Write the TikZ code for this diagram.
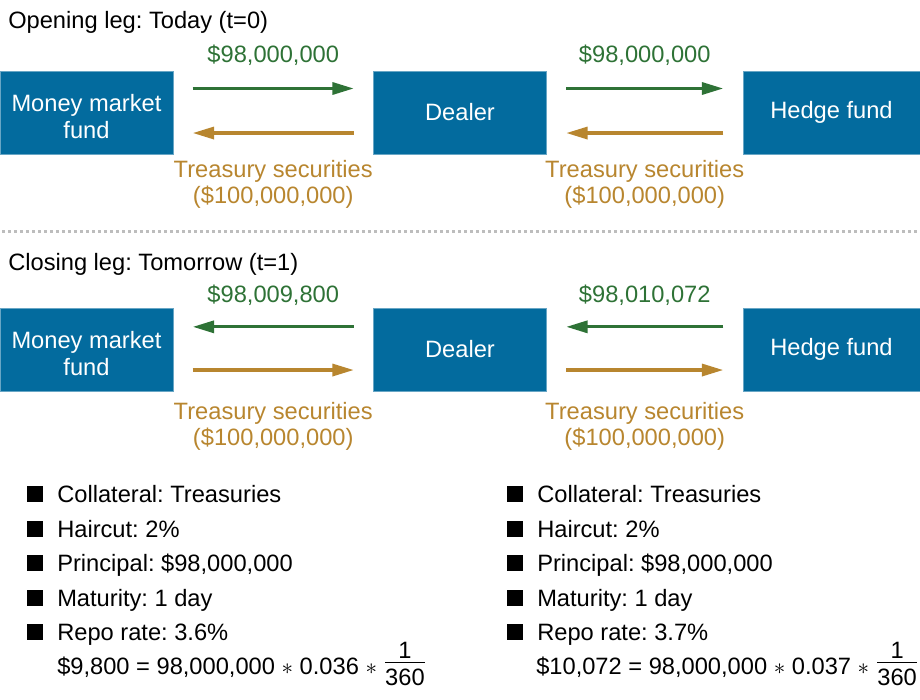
\documentclass[tikz,border=0pt]{standalone}
\usepackage{fontspec}
\setmainfont{Liberation Sans}
\usetikzlibrary{
    arrows.meta,
    calc,
    positioning
}
\definecolor{fundblue}{HTML}{036B9E}
\definecolor{cashgreen}{HTML}{2E7236}
\definecolor{secgold}{HTML}{B8862F}
\definecolor{rulegray}{HTML}{BDBDBD}
\newcommand{\bsq}{\rule{12pt}{12pt}\hspace{10.5pt}}
\newcommand{\mmftext}{\raisebox{-5.3pt}[\height][\depth]{\begin{tabular}{@{}c@{}}Money market\\[0.5pt]fund\end{tabular}}}
\frenchspacing
\tikzset{party/.style={inner sep=0pt, fill=fundblue, draw=fundblue!60!white, line width=0.6pt, text=white, align=center, minimum width=129.75pt, minimum height=62.25pt, font=\fontsize{17.75}{20.25}\selectfont}}
\tikzset{cash/.style={draw=cashgreen, line width=2.4pt, -{Triangle[length=16pt,width=9pt]}, shorten <=14.5pt, shorten >=14.5pt}}
\tikzset{sec/.style={cash, draw=secgold}}
\tikzset{amt/.style={anchor=base, inner sep=0pt, text=cashgreen, font=\fontsize{17.75}{19}\selectfont}}
\tikzset{col/.style={anchor=base, inner sep=0pt, text=secgold, align=center, font=\fontsize{17.75}{19}\selectfont}}
\tikzset{txt/.style={anchor=base west, inner sep=0pt, font=\fontsize{17.75}{22}\selectfont}}

\begin{document}
\begin{tikzpicture}[x=0.75pt, y=-0.75pt]
                        \useasboundingbox (0,0) rectangle (920,699);
                        % opening leg
                        \node[txt] (open) at (8, 29) {Opening leg: Today (t=0)};
                        \node[party] (mmf) at (86.5, 112.5) {\mmftext};
                        \node[party] (dlr) at (460, 112.5) {Dealer};
                        \node[party, minimum width=132.75pt] (hf) at (831.5, 112.5) {Hedge fund};
                        \draw[cash] ([yshift=18pt]mmf.east) -- ([yshift=18pt]dlr.west);
                        \draw[sec] ([yshift=-15.4pt]dlr.west) -- ([yshift=-15.4pt]mmf.east);
                        \draw[cash] ([yshift=18pt]dlr.east) -- ([yshift=18pt]hf.west);
                        \draw[sec] ([yshift=-15.4pt]hf.west) -- ([yshift=-15.4pt]dlr.east);
                        \node[amt] at ($(mmf.east)!0.5!(dlr.west) + (0, -49.5)$) {\$98,000,000};
                        \node[amt] at ($(dlr.east)!0.5!(hf.west) + (0, -49.5)$) {\$98,000,000};
                        \node[col] at ($(mmf.east)!0.5!(dlr.west) + (0, 90.5)$) {Treasury securities\\(\$100,000,000)};
                        \node[col] at ($(dlr.east)!0.5!(hf.west) + (0, 90.5)$) {Treasury securities\\(\$100,000,000)};
                        \draw[rulegray, line width=2.25pt, dash pattern=on 2.25pt off 2.25pt] (2, 231) -- (920, 231);
                        % closing leg
                        \node[txt] (close) at (8, 270) {Closing leg: Tomorrow (t=1)};
                        \node[party] (mmf2) at (86.5, 349.5) {\mmftext};
                        \node[party] (dlr2) at (460, 349.5) {Dealer};
                        \node[party, minimum width=132.75pt] (hf2) at (831.5, 349.5) {Hedge fund};
                        \draw[cash] ([yshift=17pt]dlr2.west) -- ([yshift=17pt]mmf2.east);
                        \draw[sec] ([yshift=-15.4pt]mmf2.east) -- ([yshift=-15.4pt]dlr2.west);
                        \draw[cash] ([yshift=17pt]hf2.west) -- ([yshift=17pt]dlr2.east);
                        \draw[sec] ([yshift=-15.4pt]dlr2.east) -- ([yshift=-15.4pt]hf2.west);
                        \node[amt] at ($(mmf2.east)!0.5!(dlr2.west) + (0, -47.5)$) {\$98,009,800};
                        \node[amt] at ($(dlr2.east)!0.5!(hf2.west) + (0, -47.5)$) {\$98,010,072};
                        \node[col] at ($(mmf2.east)!0.5!(dlr2.west) + (0, 95.5)$) {Treasury securities\\(\$100,000,000)};
                        \node[col] at ($(dlr2.east)!0.5!(hf2.west) + (0, 95.5)$) {Treasury securities\\(\$100,000,000)};
                        % terms
                        \node[txt] (l1) at (27, 502) {\bsq Collateral: Treasuries};
                        \node[txt] (l2) at (27, 537) {\bsq Haircut: 2\%};
                        \node[txt] (l3) at (27, 571) {\bsq Principal: \$98,000,000};
                        \node[txt] (l4) at (27, 606) {\bsq Maturity: 1 day};
                        \node[txt] (l5) at (27, 640) {\bsq Repo rate: 3.6\%};
                        \node[txt] (l6) at (57, 674) {\$9,800 = 98,000,000 $\ast$ 0.036 $\ast$ \raisebox{4.5pt}{$\frac{\mbox{1}}{\mbox{\rule{0pt}{17pt}360}}$}};
                        \node[txt] (r1) at (507, 502) {\bsq Collateral: Treasuries};
                        \node[txt] (r2) at (507, 537) {\bsq Haircut: 2\%};
                        \node[txt] (r3) at (507, 571) {\bsq Principal: \$98,000,000};
                        \node[txt] (r4) at (507, 606) {\bsq Maturity: 1 day};
                        \node[txt] (r5) at (507, 640) {\bsq Repo rate: 3.7\%};
                        \node[txt] (r6) at (536, 674) {\$10,072 = 98,000,000 $\ast$ 0.037 $\ast$ \raisebox{4.5pt}{$\frac{\mbox{1}}{\mbox{\rule{0pt}{17pt}360}}$}};
                    \end{tikzpicture}
\end{document}
